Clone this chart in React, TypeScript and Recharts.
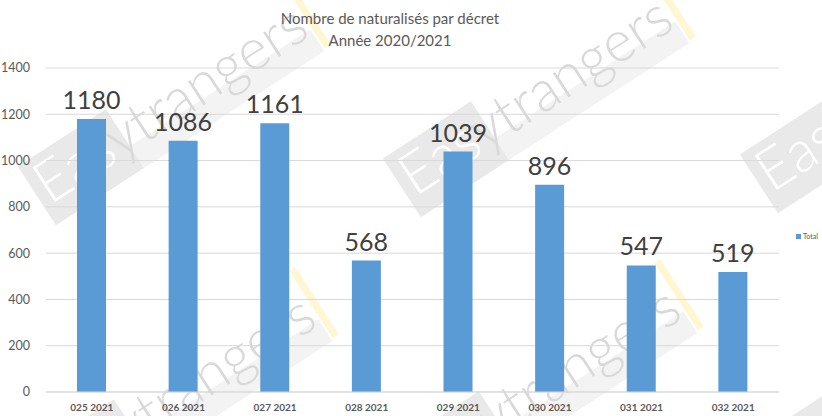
import React from 'react';
import { BarChart, Bar, XAxis, YAxis, CartesianGrid, LabelList } from 'recharts';

const decrets = ['025 2021', '026 2021', '027 2021', '028 2021', '029 2021', '030 2021', '031 2021', '032 2021'];
const totals = [1180, 1086, 1161, 568, 1039, 896, 547, 519];
const yTicks = [0, 200, 400, 600, 800, 1000, 1200, 1400];

// watermark anchors (background decoration)
const marks = [
  [35, 215], [400, 207], [757, 203],
  [43, 505], [408, 497], [765, 493],
];

const FONT = 'Lato, "Open Sans", sans-serif';

const Watermark: React.FC<{ x: number; y: number }> = ({ x, y }) => (
  <g transform={`translate(${x},${y}) rotate(-33)`}>
    <rect x={117} y={-6} width={215} height={26} fill="#f3f3f3" />
    <rect x={12} y={-50} width={105} height={70} fill="#e9e9e9" />
    <text x={18} y={0} fontSize={58} fontWeight={300} fontFamily={FONT} fill="#d9d9d9" textLength={312} lengthAdjust="spacingAndGlyphs">
      <tspan fill="#ffffff">Eas</tspan>ytrangers
    </text>
    <rect x={334} y={-62} width={7} height={80} fill="#fff6d2" />
  </g>
);

const App: React.FC = () => {
  const chartData = decrets.map((name, i) => ({ name, Total: totals[i] }));

  return (
    <div style={{ position: 'absolute', left: 0, top: 0, width: 822, height: 416, background: '#fff', fontFamily: FONT, overflow: 'hidden' }}>
      <svg width={822} height={416} style={{ position: 'absolute', left: 0, top: 0 }}>
        {marks.map(([x, y], i) => <Watermark key={i} x={x} y={y} />)}
      </svg>
      <div style={{ position: 'absolute', left: 0, width: 780, top: 7, textAlign: 'center', color: '#595959', fontSize: 15, lineHeight: '22px' }}>
        <div>Nombre de naturalisés par décret</div>
        <div>Année 2020/2021</div>
      </div>
      <div style={{ position: 'absolute', left: 0, top: 0 }}>
        <BarChart
          width={822}
          height={416}
          data={chartData}
          margin={{ top: 68, right: 43, left: 0, bottom: 0 }}
          barCategoryGap={0}
        >
          <CartesianGrid vertical={false} stroke="#d9d9d9" />
          <XAxis
            dataKey="name"
            height={24}
            stroke="#d9d9d9"
            tickLine={false}
            tickMargin={6}
            tick={{ fill: '#595959', fontSize: 10, fontWeight: 700, fontFamily: FONT }}
            interval={0}
          />
          <YAxis
            width={46}
            domain={[0, 1400]}
            ticks={yTicks}
            axisLine={false}
            tickLine={false}
            tickMargin={10}
            tick={{ fill: '#595959', fontSize: 12.5, fontFamily: FONT }}
          />
          <Bar dataKey="Total" fill="#5b9bd5" barSize={29} isAnimationActive={false}>
            <LabelList dataKey="Total" position="top" offset={10} fill="#404040" fontSize={25} fontFamily={FONT} />
          </Bar>
        </BarChart>
      </div>
      <div style={{ position: 'absolute', left: 796, top: 232, display: 'flex', alignItems: 'center', fontSize: 7, color: '#595959' }}>
        <span style={{ display: 'inline-block', width: 5, height: 5, background: '#5b9bd5', marginRight: 2 }} />
        Total
      </div>
    </div>
  );
};

export default App;
